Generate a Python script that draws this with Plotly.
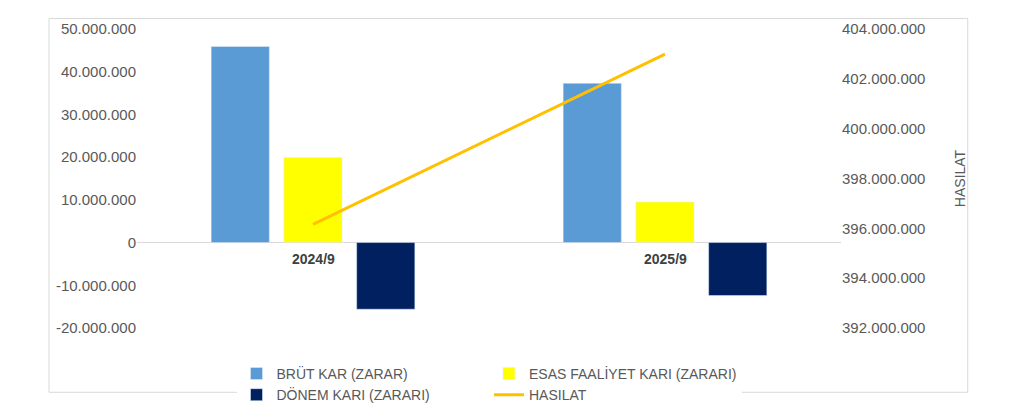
import plotly.graph_objects as go

categories = ["2024/9", "2025/9"]
brut_kar = [45900000, 37300000]
esas_faaliyet = [19900000, 9500000]
donem_kari = [-15600000, -12400000]
hasilat = [396160000, 402990000]

left_ticks = list(range(-20000000, 50000001, 10000000))
right_ticks = list(range(392000000, 404000001, 2000000))


def fmt(v):
    return f"{v:,}".replace(",", ".")


fig = go.Figure()
fig.add_bar(x=categories, y=brut_kar, name="BRÜT KAR (ZARAR)", marker_color="#5B9BD5")
fig.add_bar(x=categories, y=esas_faaliyet, name="ESAS FAALİYET KARI (ZARARI)", marker_color="#FFFF00")
fig.add_bar(x=categories, y=donem_kari, name="DÖNEM KARI (ZARARI)", marker_color="#002060")
fig.add_scatter(x=categories, y=hasilat, name="HASILAT", yaxis="y2", mode="lines",
                line=dict(color="#FFC000", width=3))

for c in categories:
    fig.add_annotation(x=c, y=0, yref="y", text="<b>" + c + "</b>", showarrow=False,
                       yanchor="top", yshift=-6, font=dict(size=14, color="#404040"))

fig.update_layout(
    width=1024, height=415,
    margin=dict(l=129, r=191, t=12, b=72),
    plot_bgcolor="white", paper_bgcolor="white",
    font=dict(family="Liberation Sans", size=14, color="#595959"),
    barmode="group", bargap=0.38, bargroupgap=0.2,
    xaxis=dict(showticklabels=False, showline=False, showgrid=False),
    yaxis=dict(range=[-20000000, 50000000], tickvals=left_ticks,
               ticktext=[fmt(v) for v in left_ticks], showgrid=False,
               zeroline=True, zerolinecolor="#D9D9D9", zerolinewidth=1,
               tickfont=dict(size=15)),
    yaxis2=dict(range=[392000000, 404000000], overlaying="y", side="right",
                tickvals=right_ticks, ticktext=[fmt(v) for v in right_ticks],
                showgrid=False, zeroline=False, tickfont=dict(size=15),
                title=dict(text="HASILAT", standoff=30, font=dict(size=14))),
    legend=dict(orientation="h", x=0.5, xanchor="center", y=-0.1, yanchor="top",
                font=dict(size=14), traceorder="normal"),
    shapes=[dict(type="rect", xref="paper", yref="paper", x0=-0.125, x1=1.18,
                 y0=-0.215, y1=1.035, line=dict(color="#D9D9D9", width=1))],
)

fig.write_html("out.html")
